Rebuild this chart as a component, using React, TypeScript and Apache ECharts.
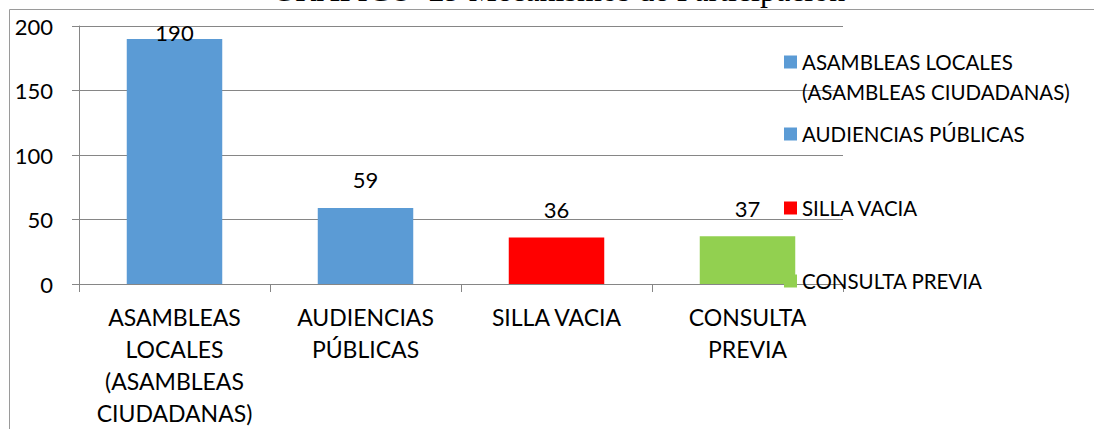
import React, { useEffect, useRef } from "react";
import * as echarts from "echarts";

const titleText = "GRÁFICO  29 Mecanismos de Participación";
const categories = [
  "ASAMBLEAS LOCALES (ASAMBLEAS CIUDADANAS)",
  "AUDIENCIAS PÚBLICAS",
  "SILLA VACIA",
  "CONSULTA PREVIA",
];
const axisLabels = [
  "ASAMBLEAS\nLOCALES\n(ASAMBLEAS\nCIUDADANAS)",
  "AUDIENCIAS\nPÚBLICAS",
  "SILLA VACIA",
  "CONSULTA\nPREVIA",
];
const legendLabels = [
  "\nASAMBLEAS LOCALES\n(ASAMBLEAS CIUDADANAS)",
  "AUDIENCIAS PÚBLICAS",
  "SILLA VACIA",
  "CONSULTA PREVIA",
];
const values = [190, 59, 36, 37];
const colors = ["#5B9BD5", "#5B9BD5", "#FF0000", "#92D050"];
const yTicks = { min: 0, max: 200, interval: 50 };

const FONT = "Lato";
const FS = 22;
const AXIS_FS = 23;
const LEGEND_FS = 20.5;
const GRAY = "#868686";

export default function App() {
  const ref = useRef<HTMLDivElement>(null);
  useEffect(() => {
    if (!ref.current) return;
    const chart = echarts.init(ref.current, null, { renderer: "svg" });
    const legendTops = [17, 119, 193, 266];
    const series = categories.map((name, i) => ({
      name,
      type: "bar",
      stack: "all",
      barCategoryGap: "50%",
      itemStyle: { color: colors[i] },
      label: {
        show: true,
        position: "top",
        distance: 17,
        color: "#000",
        fontFamily: FONT,
        fontSize: FS,
      },
      data: categories.map((_, j) =>
        j === i
          ? i === 0
            ? { value: values[j], label: { distance: -5 } }
            : values[j]
          : "-"
      ),
    }));
    chart.setOption({
      animation: false,
      title: {
        text: titleText,
        left: 272,
        top: -26,
        padding: 0,
        textStyle: {
          fontFamily: "Liberation Serif",
          fontSize: 32,
          fontWeight: "normal",
          color: "#000",
        },
      },
      graphic: [
        {
          type: "rect",
          silent: true,
          z: -10,
          shape: { x: 9.5, y: 9.5, width: 1200, height: 600 },
          style: { fill: "none", stroke: "#9a9a9a", lineWidth: 1 },
        },
      ],
      legend: categories.map((name, i) => ({
        data: [name],
        left: 784,
        top: legendTops[i],
        padding: 0,
        orient: "vertical",
        icon: "rect",
        itemWidth: 13,
        itemHeight: 13,
        selectedMode: false,
        formatter: () => legendLabels[i],
        textStyle: {
          fontFamily: FONT,
          fontSize: LEGEND_FS,
          color: "#000",
          lineHeight: 30,
        },
      })),
      grid: {
        left: 79,
        right: 251,
        top: 26,
        bottom: 145,
        containLabel: false,
        outerBoundsMode: "none",
      },
      xAxis: {
        type: "category",
        data: categories,
        axisLine: { lineStyle: { color: GRAY } },
        axisTick: { show: true, length: 8, lineStyle: { color: GRAY } },
        axisLabel: {
          interval: 0,
          margin: 17,
          color: "#000",
          fontFamily: FONT,
          fontSize: AXIS_FS,
          lineHeight: 32,
          formatter: (_v: string, idx: number) => axisLabels[idx],
        },
      },
      yAxis: {
        type: "value",
        min: yTicks.min,
        max: yTicks.max,
        interval: yTicks.interval,
        axisLine: { show: true, lineStyle: { color: GRAY } },
        axisTick: { show: true, length: 7, lineStyle: { color: GRAY } },
        splitLine: { lineStyle: { color: GRAY } },
        axisLabel: {
          margin: 26,
          color: "#000",
          fontFamily: FONT,
          fontSize: FS,
        },
      },
      series,
    });
    return () => chart.dispose();
  }, []);
  return (
    <div
      ref={ref}
      style={{ position: "fixed", left: 0, top: 0, width: 1094, height: 429, background: "#fff" }}
    />
  );
}
